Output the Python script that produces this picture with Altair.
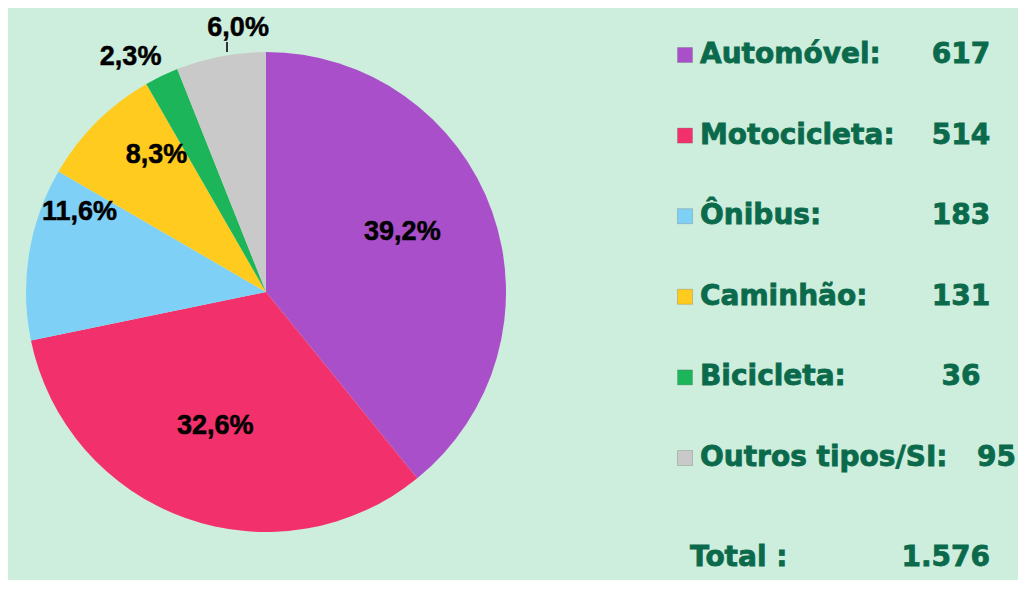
import altair as alt
import pandas as pd

categories = ["Automóvel", "Motocicleta", "Ônibus", "Caminhão", "Bicicleta", "Outros tipos/SI"]
counts = [617, 514, 183, 131, 36, 95]
pct_labels = ["39,2%", "32,6%", "11,6%", "8,3%", "2,3%", "6,0%"]
legend_labels = ["Automóvel:", "Motocicleta:", "Ônibus:", "Caminhão:", "Bicicleta:", "Outros tipos/SI:"]
colors = ["#A94FC9", "#F2306B", "#7FD0F7", "#FFCB1F", "#1DB55A", "#C9C9C9"]
total_text = "Total :"
total_value = "1.576"

df = pd.DataFrame({
    "cat": categories,
    "count": counts,
    "pct": pct_labels,
    "leg": legend_labels,
    "idx": list(range(len(categories))),
})

CX, CY = 258, 284
BG = "#CDEEDD"
GREEN = "#0B6A4B"

color = alt.Color("cat:N", scale=alt.Scale(domain=categories, range=colors), legend=None)
theta = alt.Theta("count:Q", stack=True)
order = alt.Order("idx:Q")

base = alt.Chart(df)

pie = base.mark_arc(radius=240).encode(
    theta=theta, color=color, order=order,
    x=alt.value(CX), y=alt.value(CY),
)

# per-label placement (radius, dx, dy)
label_pos = {
    "Automóvel": (150, -5, -10),
    "Motocicleta": (142, -3, 0),
    "Ônibus": (190, 1, -49),
    "Caminhão": (175, 14, -13),
    "Bicicleta": (265, -20, 4),
    "Outros tipos/SI": (265, 22, -4),
}
label_layers = []
for c, (r, dx, dy) in label_pos.items():
    label_layers.append(
        base.mark_text(radius=r, dx=dx, dy=dy, font="Liberation Sans", fontWeight="bold",
                       fontSize=27, color="#000000", stroke="#000000", strokeWidth=0.5).encode(
            theta=theta, order=order,
            x=alt.value(CX), y=alt.value(CY),
            text=alt.condition(f"datum.cat == '{c}'", alt.Text("pct:N"), alt.value("")),
        )
    )

leader = base.mark_rule(color="#333333", strokeWidth=1).encode(
    x=alt.value(219), y=alt.value(34), y2=alt.value(44)
)

row_y = alt.Y("cat:N", sort=categories,
              scale=alt.Scale(type="point", domain=categories, range=[47, 450], padding=0),
              axis=None)

txt_style = dict(baseline="middle", font="DejaVu Sans", fontWeight="bold",
                 fontSize=28, color=GREEN, stroke=GREEN, strokeWidth=0.8)

icons = base.mark_square(size=225, opacity=1, stroke="#555555", strokeWidth=0.5, strokeOpacity=0.5).encode(
    x=alt.value(677), y=row_y, color=color
)
leg_text = base.mark_text(align="left", **txt_style).encode(
    x=alt.value(692), y=row_y, text="leg:N"
)
val_text = base.transform_filter("datum.cat != 'Outros tipos/SI'").mark_text(
    align="center", **txt_style).encode(
    x=alt.value(953), y=row_y, text="count:Q"
)
val_text2 = base.transform_filter("datum.cat == 'Outros tipos/SI'").mark_text(
    align="right", **txt_style).encode(
    x=alt.value(1008), y=row_y, text="count:Q"
)

tot_df = pd.DataFrame({"a": [total_text], "b": [total_value]})
tot1 = alt.Chart(tot_df).mark_text(align="left", **txt_style).encode(
    x=alt.value(682), y=alt.value(550), text="a:N")
tot2 = alt.Chart(tot_df).mark_text(align="right", **txt_style).encode(
    x=alt.value(982), y=alt.value(550), text="b:N")

chart = alt.layer(pie, *label_layers, leader, icons, leg_text, val_text, val_text2, tot1, tot2).properties(
    width=1010, height=572, autosize=alt.AutoSizeParams(type="none"), padding=0,
    background=BG,
).configure_view(stroke=None)

chart.save("out.html", embed_options={"renderer": "svg", "actions": False})
